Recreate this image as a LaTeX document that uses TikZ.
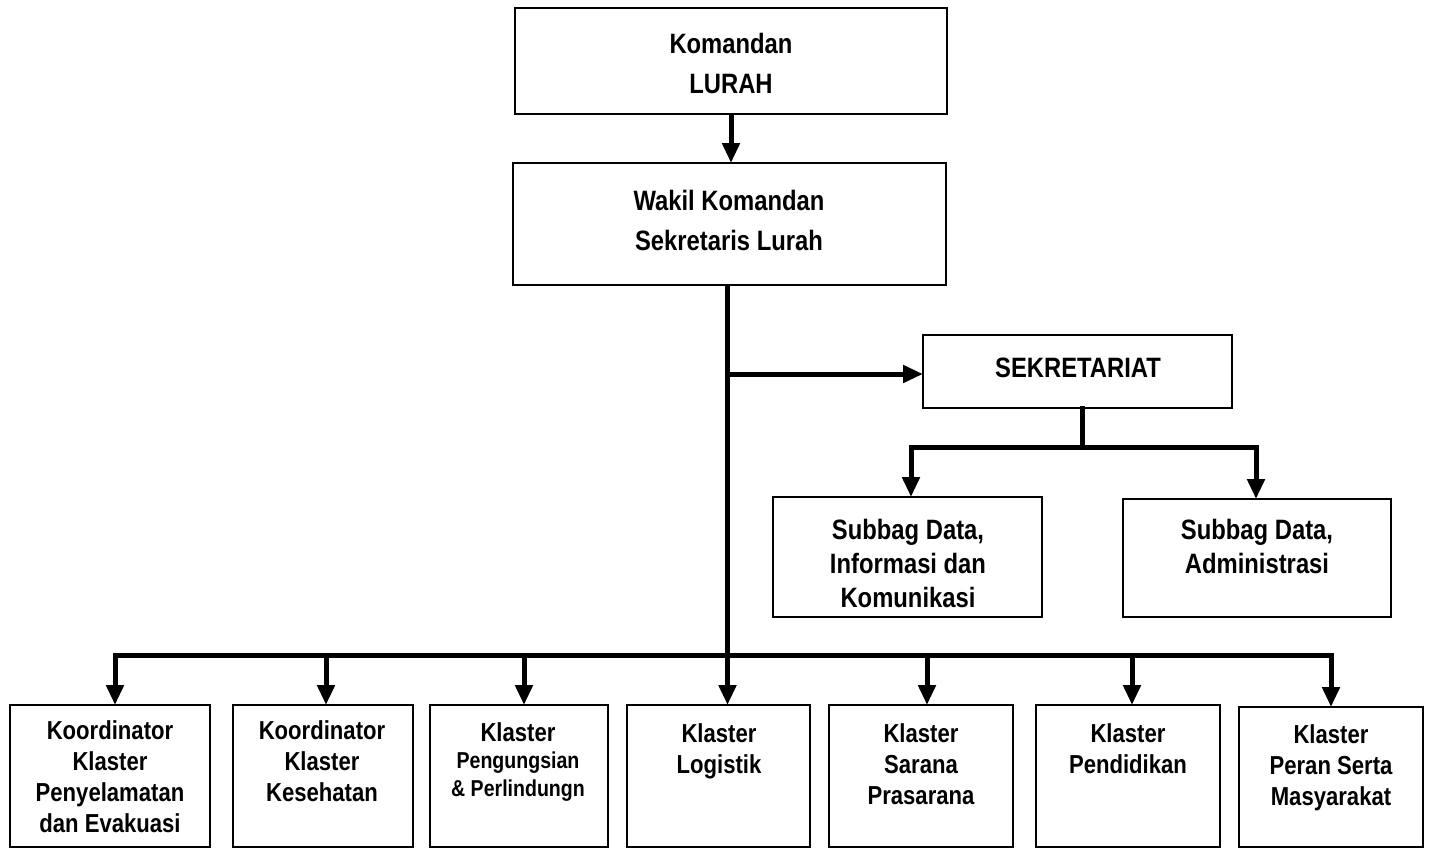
\documentclass[tikz,border=0pt]{standalone}
\usepackage{fontspec}
\setmainfont{Liberation Sans}[FakeStretch=0.85]
\usetikzlibrary{arrows.meta}
\begin{document}
\begin{tikzpicture}[x=0.5pt,y=-0.5pt,
  box/.style={draw,line width=1.2pt,inner sep=0pt,outer sep=0pt},
  txt/.style={align=center,inner sep=0pt,anchor=north,font=\bfseries\fontsize{14}{20}\selectfont},
  txtm/.style={txt,font=\bfseries\fontsize{14}{17}\selectfont},
  txtb/.style={txt,font=\bfseries\fontsize{13}{15.5}\selectfont},
  conn/.style={line width=2.5pt,line cap=rect},
  arr/.style={line width=2.5pt,-{Triangle[length=10pt,width=8.5pt]}}]
\useasboundingbox (0,0) rectangle (1431,848);
% boxes
\node[box,minimum width=216pt,minimum height=53pt] (kom) at (731,61) {};
\node[box,minimum width=216.5pt,minimum height=61pt] (wak) at (729.5,224) {};
\node[box,minimum width=154.5pt,minimum height=36.5pt] (sek) at (1077.5,371.5) {};
\node[box,minimum width=134.5pt,minimum height=60pt] (sub1) at (907.5,557) {};
\node[box,minimum width=134pt,minimum height=59pt] (sub2) at (1257,558) {};
\node[box,minimum width=100pt,minimum height=71pt] (b1) at (110,776) {};
\node[box,minimum width=90pt,minimum height=71pt] (b2) at (323,776) {};
\node[box,minimum width=89pt,minimum height=71pt] (b3) at (519,776) {};
\node[box,minimum width=91.5pt,minimum height=71pt] (b4) at (718.5,776) {};
\node[box,minimum width=92pt,minimum height=71pt] (b5) at (921,776) {};
\node[box,minimum width=92pt,minimum height=71pt] (b6) at (1128,776) {};
\node[box,minimum width=92pt,minimum height=70pt] (b7) at (1331,777) {};
% texts
\node[txt] (tkom) at (731,33) {Komandan\\LURAH};
\node[txt] (twak) at (729,190) {Wakil Komandan\\Sekretaris Lurah};
\node[txt] (tsek) at (1078,358) {SEKRETARIAT};
\node[txtm] (tsub1) at (908,519) {Subbag Data,\\Informasi dan\\Komunikasi};
\node[txtm] (tsub2) at (1257,519) {Subbag Data,\\Administrasi};
\node[txtb] (tb1) at (110,720) {Koordinator\\Klaster\\Penyelamatan\\dan Evakuasi};
\node[txtb] (tb2) at (322,720) {Koordinator\\Klaster\\Kesehatan};
\node[txtb] (tb3a) at (518,722) {Klaster};
\node[txt,font=\bfseries\fontsize{11.5}{14}\selectfont] (tb3b) at (518,751) {Pengungsian\\\& Perlindungn};
\node[txtb] (tb4) at (719,723) {Klaster\\Logistik};
\node[txtb] (tb5) at (921,723) {Klaster\\Sarana\\Prasarana};
\node[txtb] (tb6) at (1128,723) {Klaster\\Pendidikan};
\node[txtb] (tb7) at (1331,724) {Klaster\\Peran Serta\\Masyarakat};
% junction coordinates
\coordinate (jtop) at (727.5,285);
\coordinate (jsek) at (727.5,374);
\coordinate (sekdown) at (1082,447);
\coordinate (sl) at (911,447);
\coordinate (sr) at (1256,447);
\coordinate (bl) at (115,655);
\coordinate (br) at (1331,655);
\coordinate (d2) at (326,655);
\coordinate (d3) at (524,655);
\coordinate (d4) at (727.5,655);
\coordinate (d5) at (927,655);
\coordinate (d6) at (1132,655);
% connectors
\draw[arr] (kom.south -| 731,0) -- (wak.north -| 731,0);
\draw[arr] (jtop) -- (jtop |- b4.north);
\draw[arr] (jsek) -- (sek.west |- jsek);
\draw[conn] (sek.south -| sekdown) -- (sekdown);
\draw[conn] (sl) -- (sr);
\draw[arr] (sl) -- (sl |- sub1.north);
\draw[arr] (sr) -- (sr |- sub2.north);
\draw[conn] (bl) -- (br);
\draw[arr] (bl) -- (bl |- b1.north);
\draw[arr] (d2) -- (d2 |- b2.north);
\draw[arr] (d3) -- (d3 |- b3.north);
\draw[arr] (d5) -- (d5 |- b5.north);
\draw[arr] (d6) -- (d6 |- b6.north);
\draw[arr] (br) -- (br |- b7.north);
\end{tikzpicture}
\end{document}
